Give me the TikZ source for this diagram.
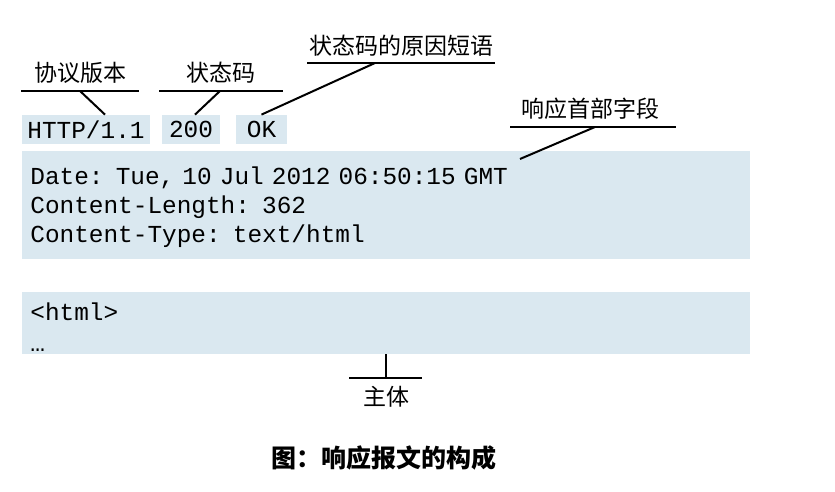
\documentclass[tikz,border=0pt]{standalone}
\usepackage{fontspec}
\setmonofont{Liberation Mono}
\newfontfamily\cjk{Noto Sans CJK SC}
\usetikzlibrary{positioning,calc}
\definecolor{msgblue}{RGB}{218,232,240}
\tikzset{
  field/.style={fill=msgblue,inner sep=0pt,font=\ttfamily\fontsize{12.2}{14.3}\selectfont},
  block/.style={field,anchor=west,align=left,text width=356pt,inner xsep=4pt},
  lbl/.style={font=\cjk\fontsize{11.5}{13}\selectfont},
  tick/.style={line width=1pt},
}
\begin{document}
\begin{tikzpicture}[x=0.5pt,y=-0.5pt]
\useasboundingbox (0,0) rectangle (835,492);
% start line
\node[field,minimum width=64pt,minimum height=14.5pt] (proto) at (86,129.5) {HTTP/1.1};
\node[field,minimum width=29pt,minimum height=14.5pt] (code) at (191,129.5) {200};
\node[field,minimum width=25.5pt,minimum height=14.5pt] (reason) at (261.5,129.5) {OK};
% header + body
\node[block,minimum height=54pt] (header) at (22,205)
  {\rule{0pt}{11pt}Date: Tue, 10 Jul 2012 06:50:15 GMT\\Content-Length: 362\\Content-Type: text/html};
\node[block,minimum height=31pt,font=\ttfamily\fontsize{12.2}{15.5}\selectfont] (body) at (22,323)
  {\rule{0pt}{12.5pt}<html>\\\ldots};
% labels
\node[lbl] (verlbl) at (80,73) {协议版本};
\node[lbl] (codelbl) at (221,73) {状态码};
\node[lbl] (reasonlbl) at (401,46) {状态码的原因短语};
\node[lbl] (hdrlbl) at (590,109) {响应首部字段};
\node[lbl] (bodylbl) at (386,397) {主体};
\node[font=\cjk\bfseries\fontsize{12.5}{14}\selectfont] (title) at (384,458) {图：响应报文的构成};
% underlines
\coordinate (verL) at (21,91);  \coordinate (verR) at (139,91);  \coordinate (verM) at (80,91);
\coordinate (codeL) at (159,91); \coordinate (codeR) at (283,91); \coordinate (codeM) at (220,91);
\coordinate (rsnL) at (307,63); \coordinate (rsnR) at (495,63); \coordinate (rsnM) at (375,63);
\coordinate (hdrL) at (510,127); \coordinate (hdrR) at (676,127); \coordinate (hdrM) at (595,127);
\coordinate (bodyL) at (349,378); \coordinate (bodyR) at (422,378); \coordinate (bodyM) at (386,378);
\coordinate (hdrEnd) at (520,159);
\draw[tick] (verL) -- (verR);
\draw[tick] (codeL) -- (codeR);
\draw[tick] (rsnL) -- (rsnR);
\draw[tick] (hdrL) -- (hdrR);
\draw[tick] (bodyL) -- (bodyR);
% pointers
\draw[tick] (verM) -- ($(proto.north)+(19,0)$);
\draw[tick] (codeM) -- ($(code.north)+(4,0)$);
\draw[tick] (rsnM) -- (reason.north);
\draw[tick] (hdrM) -- (hdrEnd);
\draw[tick] (bodyM) -- (body.south -| bodyM);
\end{tikzpicture}
\end{document}
